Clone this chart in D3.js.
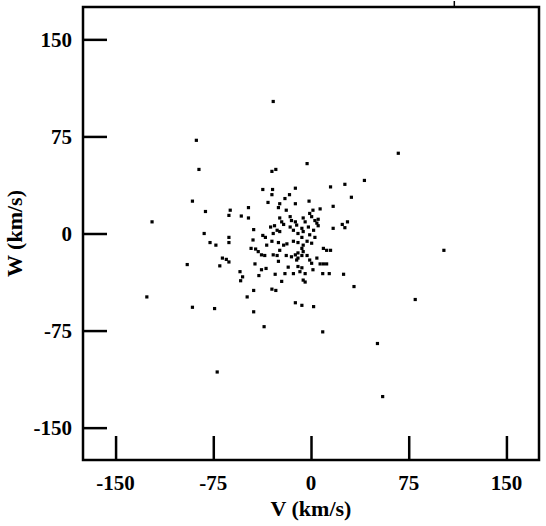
<!DOCTYPE html>
<html>
<head>
<meta charset="utf-8">
<script src="https://d3js.org/d3.v7.min.js"></script>
<style>
  body { margin: 0; background: #fff; }
  svg text { font-family: "Liberation Serif", "Times New Roman", serif; font-weight: bold; fill: #000; }
</style>
</head>
<body>
<svg id="chart" width="546" height="526"></svg>
<script>
// tick values (km/s)
var xTicks = [-150, -75, 0, 75, 150];
var yTicks = [150, 75, 0, -75, -150];

// stars: V and W velocities
var vVals = [-29, -88, -86, -91, -81, -122, -95, -126, -91, -74, -72, -36, 9, 51, 55, 80, 102, 67, 41, 31,
  26, 15, -3, -30, -27, -37, -29.5, -30, -12, -16.5, -20, -33, -24, -25, -12, -1.5, 17, 7, 1.5, -19,
  -48, -62, -63, -53.5, -48, -1, 0.5, -24, -22.5, -21, -16, -15, -12, -11, -6, -4.5, 3, 5.5, 4.5, -16,
  -13.5, -7, -6, -2, 2, 5.5, 17, 24, 28, 26, -31, -28, -26, -29, -24, -10, -7, -1, 3, -44,
  -82, -63, -63, -77.5, -73, -37, -35, -44.5, -30, -25, -21, -18.5, -13.5, -10, -6, -3, 0.5, -7, -6, -46,
  -42.5, -40.5, -38, -35.5, -34, -29, -26, -24, -19, -15, -12, -10, -10, -7, -11, -3, -1, 0.5, 4.5, 9.5,
  12, 15, 7, 9.5, 12, -25, -17.5, -10, -7, -8.5, 1.5, -27.5, -20, -13.5, -4.5, -6, -4.5, -22.5, 9, 14,
  25, 33, -30, -27, -12, -7, 2, -44, -49, -44, -68, -65, -63, -70, -43, -54.5, -52.5, -54, -38, -40, -34.5];
var wVals = [102, 72, 49.5, 25, 17, 9, -24, -49, -57, -58, -107, -72, -76, -85, -126, -51, -13, 62, 41, 28,
  38, 36, 54, 48, 49.5, 34, 34, 30, 35, 30, 27, 24, 23, 20, 23, 25, 21, 19, 18, 18,
  20, 18, 14, 13.5, 12, 15.5, 13, 12, 9, 7, 13, 10, 9, 6.5, 12, 9, 10, 11, 8, 5,
  2.5, 4, 1.5, 5, 2.5, 6, 4, 7, 9, 4.5, 5, 6, 2.5, 0, 1.5, 0, -3, -1, -3, 3,
  0, -3, -7, -7, -9, -1.5, -3, -5, -6, -7, -9, -8, -6, -7, -9, -6, -7.5, -11.5, -14, -11.5,
  -12, -14, -16.5, -17, -9, -16.5, -17, -13, -17, -18, -16.5, -15, -19, -17, -20.5, -17, -20.5, -23, -19, -11.5,
  -13, -13, -23.5, -23.5, -23.5, -21.5, -26, -25.5, -26.5, -29.5, -28, -31.5, -31, -31, -31, -36, -37.5, -37, -31, -31,
  -31.5, -41, -43, -44, -53.5, -55.5, -56.5, -44, -49, -60.5, -19, -20, -22, -25, -23.5, -29.5, -33.5, -36.5, -28, -32.5, -27];

// small stray mark above the frame
var topMarks = [110];

var svg = d3.select("#chart");
var x = d3.scaleLinear().domain([-175, 175]).range([83, 539]);
var y = d3.scaleLinear().domain([-175, 175]).range([460, 7]);

var stars = vVals.map(function(v, i) { return { v: v, w: wVals[i] }; });

svg.append("g")
  .selectAll("rect")
  .data(stars)
  .enter()
  .append("rect")
  .attr("x", function(d) { return x(d.v) - 1.6; })
  .attr("y", function(d) { return y(d.w) - 1.6; })
  .attr("width", 3.2)
  .attr("height", 3.2)
  .attr("fill", "#000");

// frame
svg.append("rect")
  .attr("x", x(-175)).attr("y", y(175))
  .attr("width", x(175) - x(-175)).attr("height", y(-175) - y(175))
  .attr("fill", "none").attr("stroke", "#000").attr("stroke-width", 2.5);

// inward ticks
var xAxis = d3.axisTop(x).tickValues(xTicks).tickSize(24).tickFormat("");
var gx = svg.append("g").attr("transform", "translate(0," + y(-175) + ")").call(xAxis);
var yAxis = d3.axisRight(y).tickValues(yTicks).tickSize(24).tickFormat("");
var gy = svg.append("g").attr("transform", "translate(" + x(-175) + ",0)").call(yAxis);
[gx, gy].forEach(function(g) {
  g.select(".domain").remove();
  g.selectAll("line").attr("stroke", "#000").attr("stroke-width", 2.5);
});

svg.selectAll(".top-mark")
  .data(topMarks)
  .enter()
  .append("line")
  .attr("class", "top-mark")
  .attr("x1", function(d) { return x(d); }).attr("x2", function(d) { return x(d); })
  .attr("y1", y(175) - 6).attr("y2", y(175))
  .attr("stroke", "#000").attr("stroke-width", 1.5);

// tick labels
svg.selectAll(".xlab")
  .data(xTicks)
  .enter()
  .append("text")
  .attr("x", function(d) { return x(d); })
  .attr("y", 490)
  .attr("text-anchor", "middle")
  .style("font-size", "21px")
  .text(function(d) { return d; });

svg.selectAll(".ylab")
  .data(yTicks)
  .enter()
  .append("text")
  .attr("x", 72)
  .attr("y", function(d) { return y(d); })
  .attr("dy", "0.35em")
  .attr("text-anchor", "end")
  .style("font-size", "21px")
  .text(function(d) { return d; });

svg.append("text")
  .attr("x", x(0)).attr("y", 516)
  .attr("text-anchor", "middle")
  .style("font-size", "22px")
  .text("V (km/s)");

svg.append("text")
  .attr("transform", "translate(22," + y(0) + ") rotate(-90)")
  .attr("text-anchor", "middle")
  .style("font-size", "22px")
  .text("W (km/s)");
</script>
</body>
</html>
